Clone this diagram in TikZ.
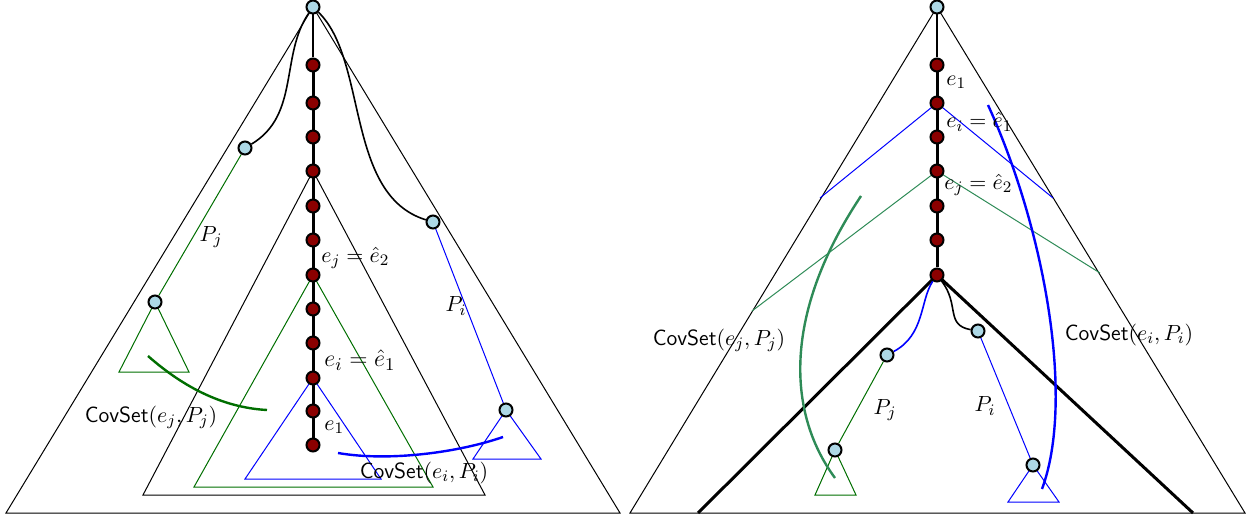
\documentclass[tikz,border=0pt]{standalone}
\usetikzlibrary{backgrounds}
\definecolor{lb}{RGB}{173,216,230}
\definecolor{dr}{RGB}{139,0,0}
\definecolor{gr}{RGB}{0,110,0}
\definecolor{sg}{RGB}{46,139,87}
\begin{document}
\begin{tikzpicture}[x=0.5pt,y=-0.5pt,
  lbn/.style={circle,draw,fill=lb,line width=1pt,inner sep=0pt,minimum size=6.5pt},
  rdn/.style={circle,draw,fill=dr,line width=1pt,inner sep=0pt,minimum size=6.5pt},
  edge/.style={line width=0.5pt},
  spine/.style={line width=1.5pt},
  wig/.style={line width=0.8pt},
  arcl/.style={line width=1.2pt},
  lab/.style={font=\fontsize{11}{13}\selectfont,inner sep=0pt},
  ]
\useasboundingbox (0,0) rectangle (1253,518);
% ---------------- left picture ----------------
\node[lbn] (L0) at (313,7) {};
\foreach \y [count=\i] in {65,103,137,171,206,240,275,309,343,378,411,445}
  \node[rdn] (r\i) at (313,\y) {};
\node[lbn] (La) at (245,148) {};
\node[lbn] (Lb) at (155,302) {};
\node[lbn] (Lc) at (433,222) {};
\node[lbn] (Ld) at (506,410) {};
\coordinate (LO1) at (6,513);   \coordinate (LO2) at (620,513);
\coordinate (LM1) at (143,495); \coordinate (LM2) at (485,495);
\coordinate (LG1) at (194,487); \coordinate (LG2) at (433,487);
\coordinate (LB1) at (245,479); \coordinate (LB2) at (381,479);
\coordinate (LS1) at (119,372); \coordinate (LS2) at (189,372);
\coordinate (LT1) at (473,459); \coordinate (LT2) at (541,459);
\coordinate (LAg1) at (148,356); \coordinate (LAg2) at (267,410);
\coordinate (LAb1) at (338,453); \coordinate (LAb2) at (503,437);
\node[lab] (lPj) at (211,237) {$P_j$};
\node[lab] (lPi) at (456,306) {$P_i$};
\node[lab,anchor=west] (lej) at (321,258) {$e_j=\hat e_2$};
\node[lab,anchor=west,font=\fontsize{12.5}{14}\selectfont] (lei) at (324,360) {$e_i=\hat e_1$};
\node[lab,anchor=west] (le1) at (324,427) {$e_1$};
\node[lab] (lcj) at (151,417) {\textsf{CovSet}$(e_j,P_j)$};
\node[lab] (lci) at (424,473) {\textsf{CovSet}$(e_i,P_i)$};
% ---------------- right picture ----------------
\node[lbn] (R0) at (937,7) {};
\foreach \y [count=\i] in {65,103,137,171,206,240,275}
  \node[rdn] (s\i) at (937,\y) {};
\node[lbn] (Ra) at (887,355) {};
\node[lbn] (Rb) at (835,450) {};
\node[lbn] (Rc) at (978,331) {};
\node[lbn] (Rd) at (1033,465) {};
\coordinate (RO1) at (630,513);  \coordinate (RO2) at (1245,513);
\coordinate (RK1) at (698,513);  \coordinate (RK2) at (1193,513);
\coordinate (RBl) at (820,198);  \coordinate (RBr) at (1053,198);
\coordinate (RGl) at (752,311);  \coordinate (RGr) at (1100,273);
\coordinate (RS1) at (815,495);  \coordinate (RS2) at (856,495);
\coordinate (RT1) at (1008,502); \coordinate (RT2) at (1059,502);
\coordinate (RAg1) at (861,196); \coordinate (RAg2) at (835,478);
\coordinate (RAb1) at (988,105); \coordinate (RAb2) at (1042,489);
\node[lab,anchor=west] (re1) at (946,82) {$e_1$};
\node[lab,anchor=west] (rei) at (946,122) {$e_i=\hat e_1$};
\node[lab,anchor=west] (rej) at (944,185) {$e_j=\hat e_2$};
\node[lab] (rPj) at (885,410) {$P_j$};
\node[lab] (rPi) at (985,406) {$P_i$};
\node[lab] (rcj) at (719,340) {\textsf{CovSet}$(e_j,P_j)$};
\node[lab] (rci) at (1129,335) {\textsf{CovSet}$(e_i,P_i)$};
\begin{pgfonlayer}{background}
  % left
  \draw[edge] (L0.center) -- (LO1) -- (LO2) -- cycle;
  \draw[edge] (r4.center) -- (LM1) -- (LM2) -- cycle;
  \draw[edge,gr] (r7.center) -- (LG1) -- (LG2) -- cycle;
  \draw[edge,blue] (r10.center) -- (LB1) -- (LB2) -- cycle;
  \draw[wig] (L0) -- (r1);
  \draw[spine] (r1) -- (r12);
  \draw[wig] (L0) .. controls (280,55) and (300,115) .. (La);
  \draw[edge,gr] (La) -- (Lb);
  \draw[edge,gr] (Lb.center) -- (LS1) -- (LS2) -- cycle;
  \draw[wig] (L0) .. controls (368,60) and (345,195) .. (Lc);
  \draw[edge,blue] (Lc) -- (Ld);
  \draw[edge,blue] (Ld.center) -- (LT1) -- (LT2) -- cycle;
  \draw[arcl,gr] (LAg1) .. controls (190,393) and (230,408) .. (LAg2);
  \draw[arcl,blue] (LAb1) .. controls (390,462) and (460,452) .. (LAb2);
  % right
  \draw[edge] (R0.center) -- (RO1) -- (RO2) -- cycle;
  \draw[wig] (R0) -- (s1);
  \draw[spine] (s1) -- (s7);
  \draw[spine] (RK1) -- (s7.center) -- (RK2);
  \draw[edge,blue] (RBl) -- (s2.center) -- (RBr);
  \draw[edge,sg] (RGl) -- (s4.center) -- (RGr);
  \draw[wig,blue] (s7) .. controls (920,300) and (925,335) .. (Ra);
  \draw[edge,gr] (Ra) -- (Rb);
  \draw[edge,gr] (Rb.center) -- (RS1) -- (RS2) -- cycle;
  \draw[wig] (s7) .. controls (960,305) and (945,325) .. (Rc);
  \draw[edge,blue] (Rc) -- (Rd);
  \draw[edge,blue] (Rd.center) -- (RT1) -- (RT2) -- cycle;
  \draw[arcl,sg] (RAg1) .. controls (785,310) and (785,410) .. (RAg2);
  \draw[arcl,blue] (RAb1) .. controls (1045,230) and (1075,400) .. (RAb2);
\end{pgfonlayer}
\end{tikzpicture}
\end{document}
